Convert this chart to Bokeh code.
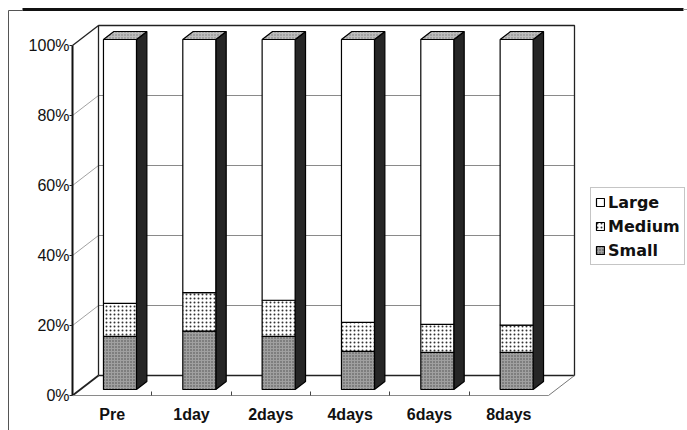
import numpy as np
from bokeh.plotting import figure
from bokeh.models import (Range1d, LinearAxis, FixedTicker, PrintfTickFormatter,
                          Legend, LegendItem)
from bokeh.embed import file_html
from bokeh.resources import INLINE

# ---- data (percent of each size class) ----
categories = ["Pre", "1day", "2days", "4days", "6days", "8days"]
small = [15.2, 16.7, 15.2, 10.9, 10.6, 10.6]
medium = [9.4, 11.0, 10.3, 8.3, 8.0, 7.8]
large = [round(100 - s - m, 1) for s, m in zip(small, medium)]
y_ticks = [0, 20, 40, 60, 80, 100]

# ---- geometry of the pseudo-3D box ----
W, H = 687, 430
FRONT_L, FRONT_R = 72, 548          # front plane, category axis extent (px)
FLOOR_Y, TOP_Y = 395, 45            # front plane, 0% and 100% (px)
PX_CAT = (FRONT_R - FRONT_L) / len(categories)
PX_PCT = (FLOOR_Y - TOP_Y) / 100.0
DX = 26 / PX_CAT                    # full depth shift, in category units
DY = 20 / PX_PCT                    # full depth shift, in percent units
BAR_W = 33 / PX_CAT
BAR_D0, BAR_D1 = 0.3, 0.7           # bar front/back depth fraction
N = len(categories)


def px(xp, yp):
    """screen pixel -> data coordinates"""
    return ((xp - FRONT_L) / PX_CAT, (FLOOR_Y - yp) / PX_PCT)


def proj(x, y, d):
    return (x + d * DX, y + d * DY)


def poly(points):
    xs, ys = zip(*points)
    return list(xs), list(ys)


p = figure(width=W, height=H, output_backend="svg", toolbar_location=None,
           x_range=Range1d(-FRONT_L / PX_CAT, (W - FRONT_L) / PX_CAT),
           y_range=Range1d(-(H - FLOOR_Y) / PX_PCT, FLOOR_Y / PX_PCT),
           x_axis_location=None, y_axis_location=None, min_border=0)
p.outline_line_color = None
p.background_fill_color = "white"
p.border_fill_color = "white"
p.grid.visible = False

# ---- page frame ----
x_a, y_a = px(8, 10)
x_b, y_b = px(8, 430)
p.line([x_a, x_b], [y_a, y_b], line_color="#555555", line_width=1)
x_c, y_c = px(22, 10)
p.line([x_a, x_c], [y_a, y_c], line_color="#555555", line_width=1)
x_d, y_d = px(22, 9)
x_e, y_e = px(683, 9)
p.line([x_d, x_e], [y_d, y_e], line_color="#111111", line_width=3)
x_f, y_f = px(687, 9)
p.line([x_e, x_f], [y_e, y_f], line_color="#999999", line_width=1)

# ---- walls ----
back = poly([proj(0, 0, 1), proj(N, 0, 1), proj(N, 100, 1), proj(0, 100, 1)])
side = poly([proj(0, 0, 0), proj(0, 0, 1), proj(0, 100, 1), proj(0, 100, 0)])
floor = poly([proj(0, 0, 0), proj(N, 0, 0), proj(N, 0, 1), proj(0, 0, 1)])
p.patches([back[0], side[0], floor[0]], [back[1], side[1], floor[1]],
          fill_color="white", line_color=None)

# gridlines on the back wall and the side wall
for v in y_ticks[1:-1]:
    bx0, by0 = proj(0, v, 1)
    bx1, by1 = proj(N, v, 1)
    p.line([bx0, bx1], [by0, by1], line_color="#8a8a8a", line_width=1)
    sx0, sy0 = proj(0, v, 0)
    p.line([sx0, bx0], [sy0, by0], line_color="#8a8a8a", line_width=0.8)

# wall edges
edge = dict(line_color="#222222", line_width=1.3)
p.line(*poly([proj(0, 0, 1), proj(0, 100, 1), proj(N, 100, 1),
              proj(N, 0, 1), proj(0, 0, 1)]), **edge)
p.line(*poly([proj(0, 100, 0), proj(0, 100, 1)]), **edge)
p.line(*poly([proj(0, 0, 0), proj(0, 0, 1)]), line_color="#222222", line_width=1.8)
p.line(*poly([proj(0, 0, 0), proj(0, 100, 0)]), line_color="#111111", line_width=2)
p.line(*poly([proj(0, 0, 0), proj(N, 0, 0)]), line_color="#8a8a8a", line_width=1.2)
p.line(*poly([proj(N, 0, 0), proj(N, 0, 1)]), line_color="#777777", line_width=1)

# ---- bars ----
centers = np.arange(N) + 0.5


def front_faces(bottoms, tops):
    xs, ys = [], []
    for c, b, t in zip(centers, bottoms, tops):
        fx, fy = poly([proj(c - BAR_W / 2, b, BAR_D0), proj(c + BAR_W / 2, b, BAR_D0),
                       proj(c + BAR_W / 2, t, BAR_D0), proj(c - BAR_W / 2, t, BAR_D0)])
        xs.append(fx)
        ys.append(fy)
    return xs, ys


side_xs, side_ys, top_xs, top_ys = [], [], [], []
for c in centers:
    r = c + BAR_W / 2
    l = c - BAR_W / 2
    sx, sy = poly([proj(r, 0, BAR_D0), proj(r, 0, BAR_D1),
                   proj(r, 100, BAR_D1), proj(r, 100, BAR_D0)])
    side_xs.append(sx)
    side_ys.append(sy)
    tx, ty = poly([proj(l, 100, BAR_D0), proj(r, 100, BAR_D0),
                   proj(r, 100, BAR_D1), proj(l, 100, BAR_D1)])
    top_xs.append(tx)
    top_ys.append(ty)

p.patches(side_xs, side_ys, fill_color="#262626", line_color="black", line_width=1.2)
p.patches(top_xs, top_ys, fill_color="#bdbdbd", hatch_pattern="dot",
          hatch_color="#7a7a7a", hatch_scale=3, line_color="black", line_width=1.2)

s_bot = [0.0] * N
s_top = small
m_bot = small
m_top = [s + m for s, m in zip(small, medium)]
l_bot = m_top
l_top = [a + b for a, b in zip(m_top, large)]

xs, ys = front_faces(s_bot, s_top)
r_small = p.patches(xs, ys, fill_color="#a0a0a0", hatch_pattern="dot",
                    hatch_color="#4a4a4a", hatch_scale=3, hatch_weight=1,
                    line_color="black", line_width=1.2)
xs, ys = front_faces(m_bot, m_top)
r_medium = p.patches(xs, ys, fill_color="white", hatch_pattern="dot",
                     hatch_color="#333333", hatch_scale=4, hatch_weight=0.7,
                     line_color="black", line_width=1.2)
xs, ys = front_faces(l_bot, l_top)
r_large = p.patches(xs, ys, fill_color="white", line_color="black", line_width=1.2)

# ---- axes on the front plane ----
yaxis = LinearAxis(fixed_location=0,
                   ticker=FixedTicker(ticks=y_ticks, minor_ticks=[]),
                   formatter=PrintfTickFormatter(format="%d%%"))
yaxis.axis_line_color = None
yaxis.major_tick_out = 3
yaxis.major_tick_in = 0
yaxis.major_tick_line_color = "#222222"
yaxis.minor_tick_line_color = None
yaxis.major_label_standoff = 0
yaxis.major_label_text_font = "Liberation Sans"
yaxis.major_label_text_font_size = "16px"
yaxis.major_label_text_color = "#111111"
p.add_layout(yaxis, "left")

xaxis = LinearAxis(fixed_location=0,
                   ticker=FixedTicker(ticks=list(centers),
                                      minor_ticks=list(range(1, N))),
                   major_label_overrides={float(c): name for c, name in zip(centers, categories)})
xaxis.axis_line_color = None
xaxis.major_tick_line_color = None
xaxis.minor_tick_in = 4
xaxis.minor_tick_out = 0
xaxis.minor_tick_line_color = "#444444"
xaxis.major_label_standoff = 4
xaxis.major_label_text_font = "Liberation Sans"
xaxis.major_label_text_font_style = "bold"
xaxis.major_label_text_font_size = "16px"
xaxis.major_label_text_color = "#111111"
p.add_layout(xaxis, "below")

# ---- legend ----
legend = Legend(items=[LegendItem(label="Large", renderers=[r_large]),
                       LegendItem(label="Medium", renderers=[r_medium]),
                       LegendItem(label="Small", renderers=[r_small])],
                location=(590, 165), orientation="vertical",
                glyph_width=10, glyph_height=10, label_standoff=3,
                padding=4, spacing=4, label_height=20, margin=0,
                border_line_color="#8c8c8c", border_line_width=1,
                background_fill_color="white", background_fill_alpha=1,
                label_text_font="DejaVu Sans", label_text_font_style="bold",
                label_text_font_size="16px", label_text_color="#111111")
p.add_layout(legend)

open("out.html", "w").write(file_html(p, INLINE))
